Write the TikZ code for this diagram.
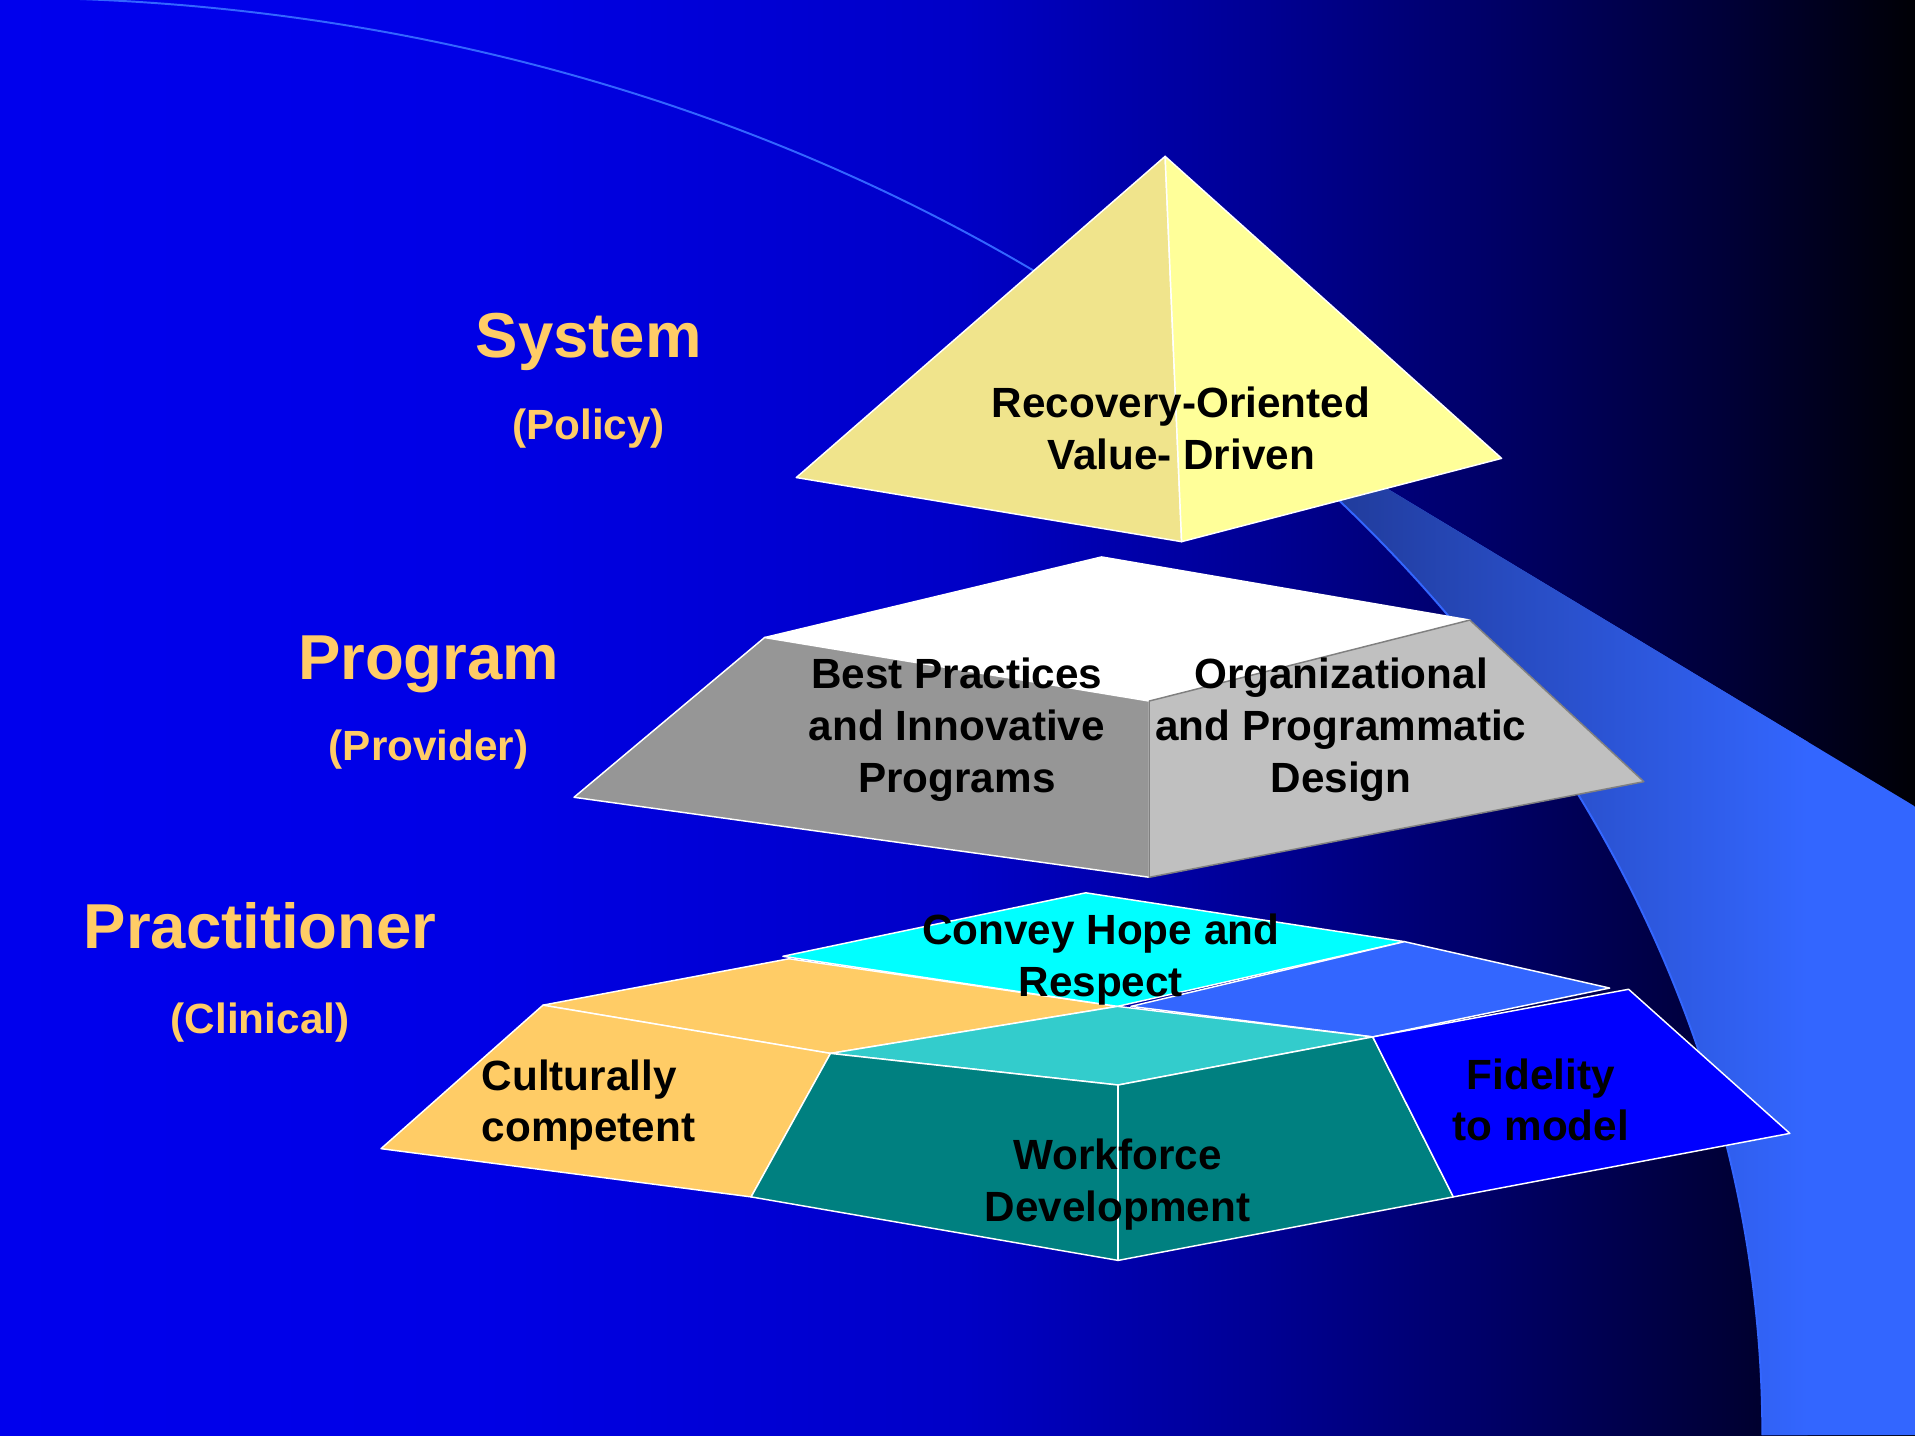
\documentclass[tikz,border=0pt]{standalone}
\usepackage{fontspec}
\setmainfont{Liberation Sans}

% slide colours
\definecolor{labelgold}{RGB}{255,204,102}
\definecolor{swoosh}{RGB}{51,102,255}
\definecolor{swooshdark}{RGB}{32,58,152}
\definecolor{pyrleft}{RGB}{240,228,140}
\definecolor{pyrright}{RGB}{255,255,153}
\definecolor{midleft}{RGB}{150,150,150}
\definecolor{midright}{RGB}{192,192,192}
\definecolor{midedge}{RGB}{128,128,128}
\definecolor{orangeface}{RGB}{255,204,102}
\definecolor{cyanface}{RGB}{0,255,255}
\definecolor{bluetop}{RGB}{51,102,255}
\definecolor{tealtop}{RGB}{51,204,204}
\definecolor{tealfront}{RGB}{0,128,128}
\definecolor{bluefront}{RGB}{0,0,255}

% blue-to-black backdrop (stops between 25bp and 75bp span the slide)
\pgfdeclarehorizontalshading{slidebg}{100bp}{
  rgb(0bp)=(0,0,0.93);
  rgb(25bp)=(0,0,0.93);
  rgb(37.5bp)=(0,0,0.90);
  rgb(50bp)=(0,0,0.78);
  rgb(57.5bp)=(0,0,0.59);
  rgb(65bp)=(0,0,0.37);
  rgb(70bp)=(0,0,0.22);
  rgb(75bp)=(0,0,0.02);
  rgb(100bp)=(0,0,0.02)}

\begin{document}
\begin{tikzpicture}[x=0.5pt,y=-0.5pt,
  face/.style={draw=white,line width=0.6pt,line join=round},
  arcline/.style={draw=swoosh,line width=0.8pt},
  title/.style={text=labelgold,inner sep=0pt,anchor=base,
    font=\fontsize{26}{31}\selectfont\bfseries},
  subtitle/.style={text=labelgold,inner sep=0pt,anchor=base,
    font=\fontsize{17.3}{21}\selectfont\bfseries},
  body/.style={text=black,inner sep=0pt,anchor=north,align=center,
    font=\fontsize{17.3}{21.25}\selectfont\bfseries}]

\useasboundingbox (0,0) rectangle (1568,1175);

% backdrop
\shade[shading=slidebg] (0,0) rectangle (1568,1175);

% swoosh band between the large arc and the straight edge
\begin{scope}
  \clip (900,258) -- (1600,679.6) -- (1600,1200) -- (900,1200) -- cycle;
  \clip (0,-2) arc[start angle=-90,end angle=0,x radius=1443,y radius=1177]
        -- (1600,1175) -- (1600,-10) -- (0,-10) -- cycle;
  \fill[swoosh] (600,0) rectangle (1600,1200);
  \shade[left color=swooshdark,right color=swoosh] (1080,0) rectangle (1480,1200);
\end{scope}
\draw[arcline] (0,-2) arc[start angle=-90,end angle=0,x radius=1443,y radius=1177];

% system pyramid
\filldraw[face,fill=pyrleft]  (954,128) -- (652,391) -- (967.5,443.5) -- cycle;
\filldraw[face,fill=pyrright] (954,128) -- (967.5,443.5) -- (1229.5,375.3) -- cycle;

% program block
\filldraw[face,fill=white] (902,456) -- (626,522) -- (941,574) -- (1203.5,507.7) -- cycle;
\filldraw[face,fill=midleft] (626,522) -- (941,574) -- (941,718.3) -- (470,652.8) -- cycle;
\filldraw[draw=midedge,line width=0.6pt,line join=round,fill=midright]
  (941,574) -- (1203.5,507.7) -- (1346,640) -- (941,718.3) -- cycle;

% practitioner block: top tiles
\filldraw[face,fill=orangeface] (444.6,823) -- (646,785) -- (915,824) -- (680,862.5) -- cycle;
\filldraw[face,fill=cyanface] (889,731) -- (641,783) -- (915,824) -- (1150,771) -- cycle;
\filldraw[face,fill=bluetop] (1150,771) -- (1318,809) -- (1124,849) -- (926,824) -- cycle;
\filldraw[face,fill=tealtop] (680,862.5) -- (915,824) -- (1124,849) -- (915.5,888.4) -- cycle;
% practitioner block: front faces
\filldraw[face,fill=orangeface] (444.6,823) -- (680,862.5) -- (615,980) -- (312,940.5) -- cycle;
\filldraw[face,fill=tealfront] (680,862.5) -- (915.5,888.4) -- (1124,849) -- (1190,980)
  -- (915.5,1032) -- (615,980) -- cycle;
\draw[face] (915.5,888.4) -- (915.5,1032);
\filldraw[face,fill=bluefront] (1124,849) -- (1333.5,810) -- (1465.5,928) -- (1190,980) -- cycle;

% level labels
\node[title] (system) at (482,293) {System};
\node[subtitle] (policy) at (482,360) {(Policy)};
\node[title] (program) at (351,556) {Program};
\node[subtitle] (provider) at (351,623) {(Provider)};
\node[title] (practitioner) at (213,777) {Practitioner};
\node[subtitle] (clinical) at (213,846.5) {(Clinical)};

% texts on the blocks
\node[body,font=\fontsize{17.3}{21.5}\selectfont\bfseries] (recovery) at (967,316.2)
  {Recovery-Oriented\\Value- Driven};
\node[body] (best) at (783.5,538.2) {Best Practices\\and Innovative\\Programs};
\node[body] (organizational) at (1098,538.2) {Organizational\\and Programmatic\\Design};
\node[body] (convey) at (901.3,747.6) {Convey Hope and\\Respect};
\node[body,anchor=north west,align=left] (cultural) at (394,867) {Culturally\\competent};
\node[body] (workforce) at (915,931.8) {Workforce\\Development};
\node[body] (fidelity) at (1261.7,866.2) {Fidelity\\to model};
\end{tikzpicture}
\end{document}
